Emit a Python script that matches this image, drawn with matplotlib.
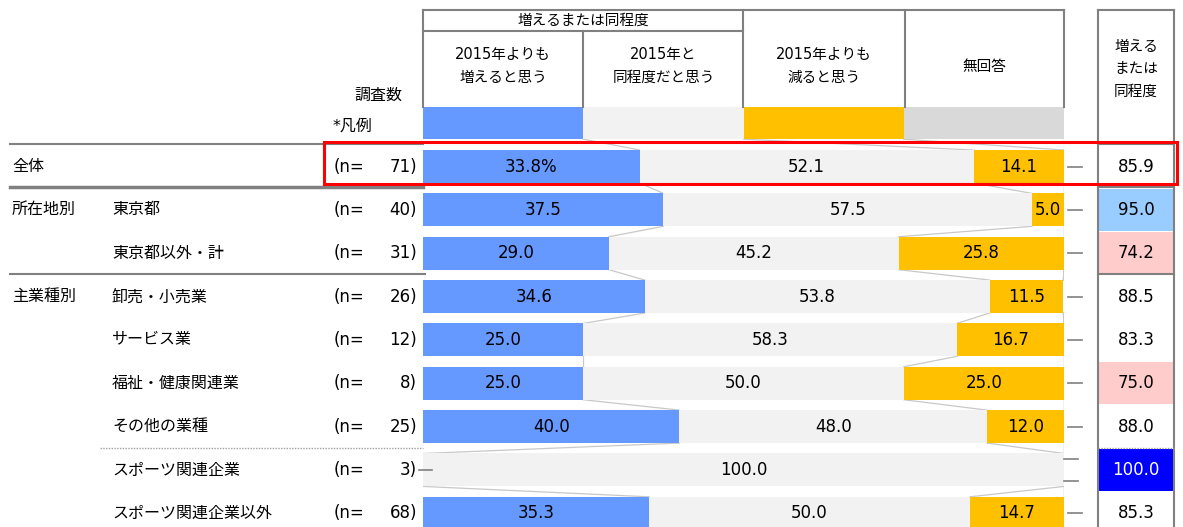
import matplotlib
matplotlib.use("Agg")
import matplotlib.pyplot as plt
from matplotlib.patches import Rectangle
import numpy as np

plt.rcParams['font.family'] = ['DejaVu Sans', 'Noto Sans CJK JP']

# ---- data ----
groups = ["全体", "所在地別", "", "主業種別", "", "", "", "", ""]
subs = ["", "東京都", "東京都以外・計", "卸売・小売業", "サービス業", "福祉・健康関連業",
        "その他の業種", "スポーツ関連企業", "スポーツ関連企業以外"]
n_obs = [71, 40, 31, 26, 12, 8, 25, 3, 68]
inc = [33.8, 37.5, 29.0, 34.6, 25.0, 25.0, 40.0, 0.0, 35.3]
same = [52.1, 57.5, 45.2, 53.8, 58.3, 50.0, 48.0, 100.0, 50.0]
dec = [14.1, 5.0, 25.8, 11.5, 16.7, 25.0, 12.0, 0.0, 14.7]
noans = [0.0, 0.0, 0.0, 0.0, 0.0, 0.0, 0.0, 0.0, 0.0]
inc_or_same = [85.9, 95.0, 74.2, 88.5, 83.3, 75.0, 88.0, 100.0, 85.3]
series_names = ["2015年よりも\n増えると思う", "2015年と\n同程度だと思う",
                "2015年よりも\n減ると思う", "無回答"]

# ---- styles ----
COLORS = ["#6699FF", "#F2F2F2", "#FFC000", "#D9D9D9"]
CELL = ["white", "#99CCFF", "#FFCCCC", "white", "white", "#FFCCCC", "white", "#0000FF", "white"]
GRID = "#808080"
W, H = 1183, 527
Y0, DY = 166.5, 43.35          # pixel centre of first row, row pitch
BH = 0.76


def row(p):
    return (p - Y0) / DY


def pix(r):
    return Y0 + r * DY


fig = plt.figure(figsize=(W / 100, H / 100), dpi=100)
bx = fig.add_axes([423 / W, 0, 641 / W, 1])
bx.set_xlim(0, 100)
bx.set_ylim(row(H), row(0))
bx.axis("off")
ax = fig.add_axes([0, 0, 1, 1])
ax.set_xlim(0, W)
ax.set_ylim(H, 0)
ax.axis("off")
ax.patch.set_alpha(0)

fh = 10.5   # header text
fs = 11.5   # row labels
fn = 12     # numbers

vals = np.array([inc, same, dec, noans])
nrow = vals.shape[1]
ys = np.arange(nrow)
left = np.zeros(nrow)
for k in range(4):
    bx.barh(ys, vals[k], left=left, height=BH, color=COLORS[k], lw=0, zorder=2)
    for i in range(nrow):
        v = vals[k][i]
        if v > 0 and k < 3:
            txt = f"{v:.1f}%" if i == 0 and k == 0 else f"{v:.1f}"
            bx.text(left[i] + v / 2, i, txt, ha="center", va="center", fontsize=fn, zorder=5)
    left += vals[k]

# legend row
bx.barh([-1] * 4, [25] * 4, left=[0, 25, 50, 75], height=0.74, color=COLORS, lw=0, zorder=2)

# connector lines between bars
cums = np.vstack([np.cumsum(vals[:, i]) for i in range(nrow)])
prev = np.array([25, 50, 75, 100])
prev_y = -1 + 0.37
for i in range(nrow):
    for k in range(4):
        bx.plot([prev[k], cums[i][k]], [prev_y, i - BH / 2], color="#C8C8C8", lw=0.9, zorder=1)
    prev = cums[i]
    prev_y = i + BH / 2

# dashes for zero values
for i in range(nrow):
    if inc[i] == 0:
        bx.plot([-0.6, 1.4], [i, i], color=GRID, lw=1.2, zorder=4, clip_on=False)
    zeros = [k for k in (2, 3) if vals[k][i] == 0]
    if len(zeros) == 1:
        bx.plot([100.6, 102.8], [i, i], color=GRID, lw=1.2, clip_on=False)
    elif len(zeros) == 2:
        for dy in (-0.26, 0.26):
            bx.plot([100.0, 102.2], [i + dy, i + dy], color=GRID, lw=1.2, clip_on=False)

# ---- header table ----
ax.plot([423, 1064], [10, 10], color=GRID, lw=1.5)
ax.plot([423, 743], [31, 31], color=GRID, lw=1.5)
for x, y0 in [(423, 10), (583, 31), (743, 10), (905, 10), (1064, 10)]:
    ax.plot([x, x], [y0, 107], color=GRID, lw=1.5)
ax.text(583, 20, "増えるまたは同程度", ha="center", va="center", fontsize=fh)
for k, name in enumerate(series_names):
    ax.text(503 + 160.5 * k, 66, name, ha="center", va="center", fontsize=fh, linespacing=1.6)
ax.text(378, 95, "調査数", ha="center", va="center", fontsize=fs)
ax.text(333, 126, "*凡例", ha="left", va="center", fontsize=fs)

# right summary column
ax.plot([1098, 1174], [10, 10], color=GRID, lw=1.5)
ax.text(1136, 69, "増える\nまたは\n同程度", ha="center", va="center", fontsize=fh, linespacing=1.6)
for i in range(nrow):
    yc = pix(i)
    ax.add_patch(Rectangle((1098, yc - 21), 76, 42, color=CELL[i], lw=0, zorder=1))
    tc = "white" if CELL[i] == "#0000FF" else "black"
    ax.text(1136, yc, f"{inc_or_same[i]:.1f}", ha="center", va="center", fontsize=fn, color=tc, zorder=3)
for x in (1098, 1174):
    ax.plot([x, x], [10, H], color=GRID, lw=1.5, zorder=2)

# left labels
for i in range(nrow):
    yc = pix(i)
    ax.text(12, yc, groups[i], ha="left", va="center", fontsize=fs)
    ax.text(112, yc, subs[i], ha="left", va="center", fontsize=fs)
    ax.text(334, yc, "(n=", ha="left", va="center", fontsize=fn)
    ax.text(417, yc, f"{n_obs[i]})", ha="right", va="center", fontsize=fn)

# separators
ax.plot([10, 423], [143.5, 143.5], color=GRID, lw=1.5)
ax.plot([1098, 1174], [143.5, 143.5], color=GRID, lw=1.5)
ax.plot([10, 423], [187, 187], color=GRID, lw=2.5)
ax.plot([1098, 1174], [187, 187], color=GRID, lw=1.5)
ax.plot([10, 425], [274, 274], color=GRID, lw=1.5)
ax.plot([1098, 1174], [274, 274], color=GRID, lw=1.5)
ax.plot([100, 423], [448, 448], color="#A0A0A0", lw=1, ls=(0, (1, 1)))
ax.plot([1098, 1174], [448, 448], color="#A0A0A0", lw=1, ls=(0, (1, 1)), zorder=3)

# highlight box for total row
ax.add_patch(Rectangle((324, 142), 853, 42, fill=False, edgecolor="#FF0000", lw=2.2, zorder=6))

fig.savefig("out.png", dpi=100)
